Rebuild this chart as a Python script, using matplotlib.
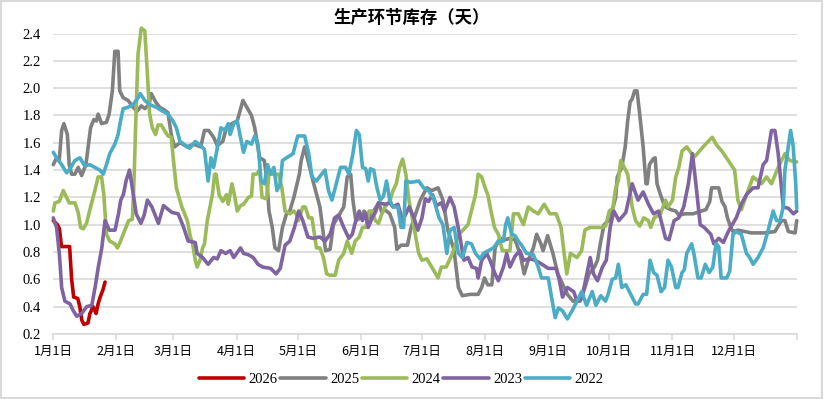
import matplotlib
matplotlib.use('Agg')
import matplotlib.pyplot as plt
from matplotlib.patches import Rectangle

# x axis: day of year, ticks on the first day of each month
month_days = [0, 31, 59, 90, 120, 151, 181, 212, 243, 273, 304, 334, 365]
month_labels = ['1月1日', '2月1日', '3月1日', '4月1日', '5月1日', '6月1日',
                '7月1日', '8月1日', '9月1日', '10月1日', '11月1日', '12月1日', '']

years = ['2026', '2025', '2024', '2023', '2022']
colors = ['#C00000', '#808080', '#9BBB59', '#8064A2', '#4BACC6']

# (day of year, days of inventory)
y2026 = [(0, 1.03), (2, 1.0), (3, 0.97), (4, 0.84), (8, 0.84), (9, 0.6), (10, 0.47),
         (12, 0.46), (13, 0.40), (14, 0.30), (15, 0.27), (17, 0.28), (18, 0.35),
         (19.5, 0.40), (21, 0.35), (22, 0.42), (23, 0.47), (24.3, 0.52), (25.4, 0.58)]

y2025 = [(0, 1.44), (1.6, 1.49), (2.9, 1.47), (4.1, 1.69), (5.2, 1.74), (6.9, 1.66),
         (7.8, 1.44), (9, 1.37), (10.6, 1.37), (12.2, 1.42), (13.9, 1.36), (16, 1.44),
         (17.1, 1.57), (18.3, 1.71), (19.9, 1.77), (21.2, 1.76), (22, 1.81), (23.7, 1.74),
         (26.1, 1.75), (27.4, 1.81), (29, 1.98), (30.2, 2.27), (31.8, 2.27), (32.6, 1.98),
         (34.3, 1.93), (36.7, 1.91), (39.2, 1.86), (41.1, 1.83), (43.2, 1.87), (44.9, 1.85),
         (47, 1.88), (48.1, 1.96), (50.2, 1.90), (52.2, 1.86), (54.6, 1.84), (56.3, 1.82),
         (57.9, 1.66), (59.5, 1.57), (62.2, 1.60), (65.8, 1.57), (68.8, 1.59), (72.4, 1.57),
         (74.2, 1.69), (76.3, 1.69), (78.7, 1.64), (80.5, 1.58), (83.2, 1.61), (85, 1.71),
         (87.7, 1.74), (90.3, 1.76), (93.1, 1.91), (95, 1.86), (97.3, 1.80), (98.9, 1.71),
         (101.3, 1.49), (103.6, 1.47), (104.7, 1.35), (105.9, 1.10), (107.5, 0.98),
         (108.8, 0.83), (110.6, 0.81), (112.5, 0.98), (114.5, 1.08), (116.1, 1.10),
         (118.1, 1.20), (119.2, 1.27), (120.8, 1.37), (121.7, 1.47), (123.4, 1.57),
         (127.5, 1.32), (130.9, 1.13), (132.6, 0.93), (133.7, 0.81), (135.9, 0.82),
         (137.5, 1.0), (141, 1.09), (142.6, 1.13), (144.3, 1.35), (146, 1.37), (147.1, 1.18),
         (148.5, 1.03), (151, 1.05), (152.6, 1.10), (155, 1.05), (157.3, 1.10), (159.7, 1.16),
         (161.3, 1.09), (162.8, 1.11), (165.2, 1.08), (167.6, 0.98), (168.7, 0.82),
         (170.7, 0.85), (173.9, 0.85), (175.5, 0.97), (177.9, 1.08), (180.2, 1.18),
         (183.4, 1.27), (185.8, 1.25), (188.9, 1.27), (191.3, 1.18), (193.7, 0.96),
         (196.8, 0.81), (198.9, 0.54), (200.8, 0.48), (204.7, 0.49), (208.6, 0.49),
         (210.3, 0.54), (211.7, 0.61), (213.3, 0.56), (215.3, 0.56), (216.9, 0.83),
         (219.3, 0.90), (221.8, 0.89), (224.2, 0.90), (226.7, 0.89), (229.1, 0.79),
         (231.2, 0.64), (233.2, 0.74), (235.7, 0.83), (237.3, 0.93), (239.4, 0.86),
         (240.5, 0.81), (242.7, 0.92), (245.3, 0.79), (247.7, 0.64), (250.8, 0.54),
         (252.4, 0.49), (255.2, 0.44), (258.6, 0.44), (261, 0.54), (263, 0.64),
         (265.7, 0.69), (267.2, 0.74), (268.8, 0.88), (270.4, 1.00), (272.7, 1.03),
         (273.5, 1.05), (276.1, 1.20), (276.9, 1.35), (279.1, 1.42), (280.8, 1.57),
         (282, 1.76), (283.2, 1.90), (284.2, 1.92), (285.4, 1.98), (286.6, 1.98),
         (287.9, 1.81), (289.6, 1.57), (291, 1.30), (291.6, 1.30), (292.7, 1.44),
         (294.4, 1.48), (295.5, 1.49), (296.4, 1.30), (298.1, 1.22), (299.8, 1.15),
         (300.6, 1.13), (303.2, 1.11), (305.6, 1.10), (307.1, 1.07), (310.3, 1.08),
         (314.2, 1.08), (318.1, 1.10), (320.4, 1.11), (322.3, 1.17), (323.2, 1.27),
         (326.7, 1.27), (328.3, 1.17), (329.8, 1.13), (331, 1.05), (332.6, 0.98),
         (333.7, 0.95), (336.1, 0.96), (339.4, 0.95), (342.7, 0.94), (349.3, 0.94),
         (354.3, 0.95), (357.5, 1.03), (359.2, 1.03), (360.9, 0.95), (364.2, 0.94),
         (365, 1.03)]

y2024 = [(0, 1.10), (0.8, 1.16), (2.9, 1.17), (4.9, 1.25), (6.5, 1.20), (7.8, 1.16),
         (10.6, 1.16), (12.2, 1.09), (13.4, 0.98), (14.7, 0.97), (16.3, 1.01), (18.3, 1.13),
         (20.4, 1.25), (22, 1.35), (23.7, 1.35), (24.8, 1.22), (26.1, 0.93), (27.7, 0.88),
         (30.2, 0.86), (31.5, 0.83), (33, 0.88), (35.1, 0.96), (37, 1.03), (38.8, 1.04),
         (39.5, 1.27), (40.5, 1.76), (41.6, 2.25), (43.2, 2.44), (44.9, 2.42), (46.2, 2.10),
         (47.3, 1.81), (48.6, 1.71), (50.2, 1.66), (51.4, 1.73), (53, 1.73), (54.6, 1.69),
         (56.3, 1.65), (57.9, 1.64), (59, 1.47), (60.4, 1.27), (63.1, 1.13), (65.8, 1.03),
         (67.3, 0.91), (68.4, 0.86), (69.7, 0.74), (70.6, 0.69), (72, 0.74), (73.3, 0.83),
         (74.2, 0.86), (75.6, 1.03), (76.9, 1.13), (78.1, 1.22), (79.2, 1.37), (79.9, 1.37),
         (81.4, 1.22), (83.2, 1.17), (85, 1.22), (85.9, 1.15), (87.7, 1.30), (88.9, 1.22),
         (90.3, 1.10), (91.9, 1.14), (93.4, 1.15), (95.8, 1.20), (97.3, 1.21), (98.1, 1.37),
         (99.7, 1.37), (101.3, 1.40), (102.5, 1.20), (104.7, 1.19), (105.9, 1.37),
         (109.4, 1.37), (110.6, 1.37), (112.2, 1.27), (113.8, 1.10), (116.1, 1.08),
         (118.1, 1.10), (119.2, 1.08), (120.3, 1.03), (122.5, 1.13), (123.7, 1.13),
         (125.4, 1.05), (127, 1.05), (129.2, 0.83), (130.9, 0.83), (132.6, 0.76),
         (134.2, 0.64), (135.9, 0.63), (138.4, 0.63), (140.1, 0.74), (142.6, 0.79),
         (144.3, 0.88), (146.5, 0.79), (148.2, 0.88), (150.2, 0.91), (151.8, 0.98),
         (153.4, 0.98), (155, 1.10), (156.5, 1.10), (158.1, 1.03), (159.7, 1.01),
         (161.3, 1.08), (162.8, 1.13), (165.2, 1.17), (166.8, 1.25), (168.4, 1.30),
         (170, 1.42), (171.5, 1.48), (173.1, 1.37), (174.7, 1.17), (177.1, 0.98),
         (179.4, 0.79), (181, 0.74), (183.4, 0.75), (185.8, 0.69), (188.9, 0.61),
         (190.5, 0.69), (192.9, 0.69), (196, 0.79), (199.2, 0.93), (202.3, 0.98),
         (203.6, 1.00), (206.1, 1.15), (207.3, 1.22), (208.6, 1.37), (210.3, 1.35),
         (212, 1.27), (213.3, 1.22), (214.9, 1.10), (216.6, 0.98), (218.5, 0.93),
         (220.5, 0.81), (224.2, 0.81), (225.9, 1.08), (228.3, 1.08), (230.8, 1.00),
         (233.2, 1.13), (235.7, 1.10), (238.1, 1.08), (241, 1.15), (243.8, 1.08),
         (246.9, 1.08), (249.3, 0.98), (250.8, 0.79), (252.1, 0.64), (253.9, 0.79),
         (257.1, 0.76), (259.4, 0.81), (261, 0.96), (263.3, 0.98), (269.6, 0.98),
         (271.1, 0.99), (273, 1.10), (274.7, 1.12), (276.1, 1.27), (277.4, 1.32),
         (278.6, 1.47), (280.3, 1.42), (282, 1.37), (284.2, 1.13), (285.9, 1.03),
         (287.9, 0.99), (289.9, 1.05), (292.2, 1.03), (293.3, 0.98), (295, 1.05),
         (298.1, 1.08), (300.6, 1.18), (301.8, 1.13), (304, 1.18), (305.6, 1.35),
         (307.1, 1.42), (308.7, 1.54), (311, 1.57), (313.4, 1.52), (315, 1.50),
         (317.3, 1.54), (319.6, 1.58), (323.5, 1.64), (325.8, 1.58), (328.2, 1.54),
         (331.4, 1.47), (334.5, 1.40), (336.1, 1.18), (337.8, 1.11), (341.1, 1.25),
         (343.6, 1.35), (347.7, 1.30), (350.2, 1.35), (352.6, 1.30), (355.9, 1.42),
         (359.2, 1.52), (361.6, 1.47), (365, 1.46)]

y2023 = [(0, 1.05), (1.6, 0.98), (3, 0.78), (4.1, 0.54), (5.7, 0.44), (8.2, 0.42),
         (9.8, 0.37), (11.5, 0.33), (13.9, 0.35), (16.4, 0.40), (18.9, 0.41), (20.5, 0.54),
         (22.1, 0.69), (23.8, 0.83), (25.4, 1.03), (27.5, 0.96), (30.3, 0.96), (32, 1.08),
         (33.1, 1.18), (34.4, 1.22), (35.7, 1.32), (37.4, 1.40), (39, 1.25), (40.7, 1.08),
         (43, 1.01), (44.6, 1.07), (46.2, 1.18), (48.4, 1.13), (51.6, 1.01), (54.1, 1.14),
         (58.2, 1.09), (61.3, 1.08), (64, 0.98), (66.2, 0.88), (69.7, 0.87), (70.6, 0.79),
         (73.3, 0.76), (76, 0.71), (78.7, 0.76), (80.5, 0.75), (82.3, 0.81), (84.6, 0.79),
         (86.8, 0.81), (88.6, 0.76), (91.9, 0.83), (93.4, 0.79), (95.8, 0.78), (98.1, 0.76),
         (100.5, 0.71), (102.8, 0.69), (106.7, 0.68), (109.4, 0.64), (111.4, 0.68),
         (113.8, 0.85), (116.1, 0.88), (118.4, 0.98), (120.5, 1.10), (122.5, 1.03),
         (125, 0.91), (127.5, 0.90), (130.9, 0.91), (133.4, 0.88), (135.9, 0.93),
         (138.1, 1.05), (140.1, 1.07), (142.6, 0.98), (145.1, 0.90), (146.8, 0.93),
         (148.5, 1.03), (150.2, 1.10), (151.8, 1.03), (153.4, 1.08), (154.6, 0.98),
         (156.5, 1.05), (158.1, 1.09), (159.7, 1.16), (162.8, 1.15), (165.2, 1.16),
         (166.8, 1.13), (169.2, 1.15), (171.5, 1.03), (174.7, 1.13), (177.1, 1.05),
         (179, 0.96), (181, 1.05), (182.6, 1.19), (184.2, 1.17), (186.2, 1.22),
         (188.1, 1.14), (190.5, 1.16), (192.1, 1.10), (194.8, 1.20), (196.8, 1.13),
         (198.4, 1.01), (200, 0.88), (201.6, 0.74), (203.6, 0.76), (205.6, 0.69),
         (207.8, 0.68), (208.6, 0.61), (210.3, 0.74), (212.8, 0.79), (214.4, 0.74),
         (216.9, 0.64), (218.5, 0.59), (221, 0.69), (222.6, 0.79), (224.2, 0.69),
         (226.7, 0.77), (229.1, 0.81), (230.8, 0.74), (234, 0.75), (236.5, 0.74),
         (238.9, 0.72), (243, 0.68), (246.9, 0.68), (248.5, 0.59), (250, 0.47),
         (252.4, 0.54), (255.5, 0.51), (257.1, 0.44), (259.4, 0.46), (261, 0.57),
         (263.6, 0.76), (265.2, 0.64), (267.2, 0.59), (269.6, 0.69), (271.5, 0.74),
         (273.4, 0.98), (275.2, 1.10), (277.7, 1.03), (281.1, 1.09), (284.2, 1.30),
         (287.1, 1.18), (289.6, 1.24), (292.2, 1.15), (294.7, 1.08), (297.2, 1.10),
         (300.6, 0.90), (302.3, 0.89), (304.8, 1.03), (307.1, 1.05), (309.5, 1.13),
         (311.8, 1.30), (313.8, 1.52), (315.7, 1.27), (317.6, 1.00), (319.6, 0.98),
         (322.8, 0.93), (324.3, 0.86), (326.7, 0.90), (329, 0.87), (331.4, 0.95),
         (335.3, 1.05), (337.8, 1.15), (340.3, 1.22), (343.6, 1.27), (346, 1.27),
         (348.5, 1.44), (350.2, 1.47), (352.6, 1.69), (354.3, 1.69), (355.9, 1.52),
         (358.4, 1.13), (360.9, 1.12), (363.4, 1.08), (365, 1.10)]

y2022 = [(0, 1.53), (1.6, 1.49), (4.1, 1.44), (6.5, 1.38), (8.2, 1.41), (10.6, 1.47),
         (13, 1.49), (15.5, 1.43), (17.9, 1.44), (20.4, 1.42), (22.8, 1.40), (24.5, 1.37),
         (26.1, 1.44), (27.7, 1.52), (30.2, 1.59), (31.8, 1.66), (33, 1.76), (34.3, 1.85),
         (36.7, 1.86), (39.2, 1.88), (41.6, 1.93), (42.7, 1.96), (44.9, 1.91), (47.3, 1.88),
         (50.6, 1.86), (53.8, 1.83), (56.3, 1.81), (58.7, 1.76), (60.4, 1.71), (62.2, 1.61),
         (64.9, 1.58), (67, 1.56), (69.7, 1.61), (72.4, 1.58), (74.2, 1.55), (76, 1.32),
         (77.4, 1.49), (78.7, 1.42), (80.5, 1.56), (82.3, 1.71), (84.1, 1.69), (85.9, 1.74),
         (86.8, 1.66), (88.6, 1.74), (90.3, 1.76), (91.9, 1.64), (93.4, 1.53), (95, 1.61),
         (97.3, 1.59), (98.9, 1.65), (100.5, 1.59), (102, 1.32), (103.6, 1.30),
         (105.2, 1.44), (106.7, 1.37), (108.3, 1.42), (109.8, 1.25), (111.4, 1.30),
         (112.5, 1.47), (114.5, 1.49), (117.7, 1.52), (120, 1.65), (123.4, 1.65),
         (125.4, 1.52), (127, 1.35), (129.2, 1.32), (131.7, 1.37), (133.4, 1.40),
         (135.1, 1.25), (136.8, 1.18), (138.4, 1.27), (141, 1.42), (143.5, 1.42),
         (145.1, 1.37), (147.1, 1.52), (148.8, 1.69), (150.2, 1.66), (151.8, 1.42),
         (153.4, 1.41), (154.6, 1.32), (155.7, 1.41), (157.3, 1.40), (158.9, 1.27),
         (160.5, 1.18), (162.1, 1.21), (163.6, 1.32), (165.2, 1.18), (166.8, 1.13),
         (169.2, 1.13), (170.7, 0.98), (172, 0.98), (173.1, 1.32), (175.5, 1.31),
         (179.4, 1.32), (181.8, 1.27), (184.2, 1.25), (186.5, 1.20), (189.4, 1.05),
         (191.3, 1.00), (193.2, 0.79), (194.8, 0.96), (196.8, 0.98), (198.9, 0.79),
         (200.8, 0.76), (203.1, 0.87), (205.3, 0.86), (207.3, 0.79), (209.5, 0.75),
         (211.2, 0.79), (213.6, 0.81), (216.1, 0.83), (218.5, 0.88), (221, 0.88),
         (222.1, 1.00), (223.1, 1.05), (225.1, 0.93), (226.7, 0.92), (228.3, 0.88),
         (229.9, 0.85), (232.4, 0.79), (235.7, 0.78), (238.1, 0.69), (239.7, 0.61),
         (243, 0.61), (244.6, 0.47), (246.4, 0.32), (248, 0.39), (250, 0.37),
         (252.4, 0.31), (254.7, 0.37), (257.1, 0.44), (259.4, 0.51), (261.8, 0.41),
         (264.6, 0.51), (266.4, 0.41), (268.8, 0.48), (271.1, 0.44), (272.4, 0.49),
         (274.4, 0.60), (276.1, 0.61), (277.4, 0.71), (279.1, 0.54), (281.1, 0.56),
         (282.8, 0.51), (285.9, 0.42), (287.1, 0.42), (289.6, 0.49), (291.3, 0.49),
         (293, 0.74), (294.7, 0.65), (296.4, 0.63), (298.4, 0.51), (300.1, 0.54),
         (301.8, 0.74), (303.5, 0.69), (305.6, 0.54), (306.7, 0.54), (308.7, 0.65),
         (309.8, 0.67), (311, 0.79), (313.4, 0.86), (314.5, 0.79), (316.5, 0.61),
         (318.1, 0.61), (320.1, 0.71), (322, 0.65), (323.8, 0.69), (325.4, 0.86),
         (326.7, 0.84), (327.9, 0.61), (330.6, 0.61), (332.1, 0.66), (333.7, 0.93),
         (335.3, 0.95), (337.8, 0.93), (340.3, 0.79), (341.9, 0.76), (343.6, 0.71),
         (346, 0.76), (348.5, 0.83), (351, 0.96), (353.4, 1.10), (355.1, 1.03),
         (356.8, 1.03), (358.4, 1.13), (359.2, 1.40), (362, 1.69), (363.3, 1.57),
         (364.5, 1.30), (365, 1.12)]


def main():
    fig = plt.figure(figsize=(8.24, 3.99), dpi=100)
    ax = fig.add_axes([0.0647, 0.163, 0.9022, 0.753])

    series = [y2026, y2025, y2024, y2023, y2022]
    for name, pts, color in zip(years, series, colors):
        d = [p[0] for p in pts]
        v = [p[1] for p in pts]
        ax.plot(d, v, color=color, lw=2.6, label=name, clip_on=False,
                solid_joinstyle='round', solid_capstyle='round')

    # axes
    ax.set_xlim(0, 365)
    ax.set_ylim(0.2, 2.4)
    ax.set_yticks([0.2 + 0.2 * i for i in range(12)])
    ax.set_yticklabels(['%.1f' % (0.2 + 0.2 * i) for i in range(12)],
                       fontfamily='Liberation Serif', fontsize=10.5)
    ax.set_xticks(month_days)
    ax.set_xticklabels(month_labels, fontfamily='Noto Sans CJK SC', fontsize=9)
    ax.tick_params(axis='y', length=0, pad=9)
    ax.tick_params(axis='x', length=4, width=1.2, color='#D9D9D9', pad=4)

    ax.yaxis.grid(True, color='#D9D9D9', lw=1.2)
    ax.set_axisbelow(True)
    for s in ['left', 'top', 'right']:
        ax.spines[s].set_visible(False)
    ax.spines['bottom'].set_color('#D9D9D9')
    ax.spines['bottom'].set_linewidth(1.2)

    # title and legend
    fig.text(0.5, 0.955, '生产环节库存（天）', ha='center', va='center',
             fontfamily='Noto Sans CJK SC', fontweight='bold', fontsize=12.5)
    fig.legend(loc='center', bbox_to_anchor=(0.487, 0.048), ncol=5, frameon=False,
               handlelength=3.1, handletextpad=0.3, columnspacing=0.2,
               prop={'family': 'Liberation Serif', 'size': 10.5})

    # chart border
    fig.patches.append(Rectangle((0.001, 0.002), 0.997, 0.995, transform=fig.transFigure,
                                 fill=False, edgecolor='#D9D9D9', lw=1.5))

    fig.savefig('out.png', dpi=100)


if __name__ == "__main__":
    main()
